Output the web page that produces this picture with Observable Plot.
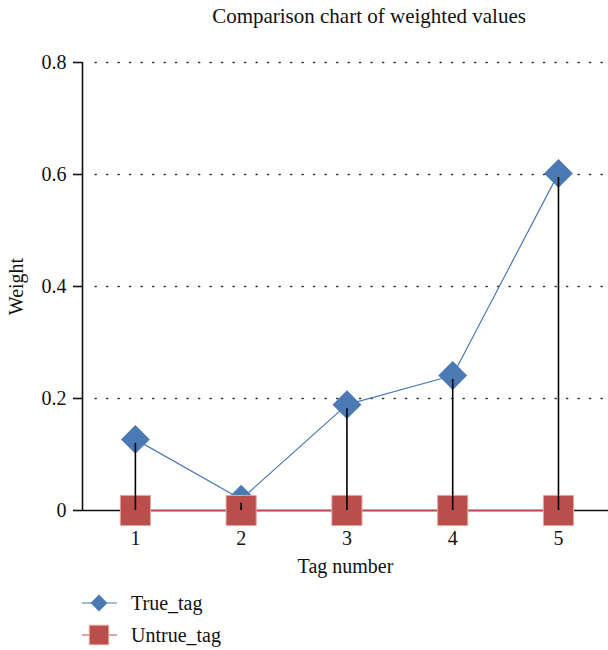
<!DOCTYPE html>
<html>
<head>
<meta charset="utf-8">
<script src="https://cdn.jsdelivr.net/npm/d3@7"></script>
<script src="https://cdn.jsdelivr.net/npm/@observablehq/plot@0.6"></script>
<style>
  body { margin: 0; background: #fff; font-family: "Liberation Serif", serif; }
  #wrap { position: relative; width: 608px; height: 650px; overflow: hidden; }
  #title { position: absolute; top: 4px; left: 0; width: 738px; text-align: center; font-size: 21px; color: #111; }
  #chart { position: absolute; top: 0; left: 0; }
  #legend { position: absolute; left: 0; top: 586px; }
</style>
</head>
<body>
<div id="wrap">
  <div id="chart"></div>
  <div id="title">Comparison chart of weighted values</div>
  <div id="legend"></div>
</div>
<script>
const tags = [1, 2, 3, 4, 5];
const trueTag = [0.127, 0.020, 0.189, 0.241, 0.602];
const untrueTag = [0, 0, 0, 0, 0];
const yTicks = [0, 0.2, 0.4, 0.6, 0.8];
const seriesNames = ["True_tag", "Untrue_tag"];
const blue = "#4a79b4";
const red = "#b94e4b";

const trueData = tags.map((t, i) => ({tag: t, w: trueTag[i]}));
const untrueData = tags.map((t, i) => ({tag: t, w: untrueTag[i]}));
const yFmt = d => d === 0 ? "0" : d.toFixed(1);

const chart = Plot.plot({
  width: 608,
  height: 650,
  marginTop: 62,
  marginBottom: 140,
  marginLeft: 82,
  marginRight: 0,
  style: {fontFamily: "Liberation Serif, serif", fontSize: "20px", color: "#111", background: "transparent"},
  x: {domain: [0.5, 5.473]},
  y: {domain: [0, 0.8]},
  marks: [
    Plot.ruleY(yTicks.filter(d => d > 0), {stroke: "#333", strokeWidth: 1.3, strokeDasharray: "1.3,10.2", strokeLinecap: "round", insetLeft: 13}),
    Plot.axisX({ticks: tags, tickSize: 0, tickPadding: 20, label: "Tag number", labelAnchor: "center", labelOffset: 62, labelArrow: "none", fontSize: 20, tickFormat: d => String(d)}),
    Plot.axisY({ticks: yTicks, tickSize: 9, tickPadding: 7, label: "Weight", labelAnchor: "center", labelOffset: 74, labelArrow: "none", fontSize: 20, tickFormat: yFmt, strokeWidth: 1.6}),
    Plot.ruleX([0.5], {y1: 0, y2: 0.8, stroke: "#111", strokeWidth: 1.6}),
    Plot.ruleY([0], {stroke: "#111", strokeWidth: 1.6}),
    Plot.line(untrueData, {x: "tag", y: "w", stroke: red, strokeWidth: 1.6}),
    Plot.line(trueData, {x: "tag", y: "w", stroke: blue, strokeWidth: 1.2}),
    Plot.dot(trueData, {x: "tag", y: "w", symbol: "diamond2", r: 13, fill: blue}),
    Plot.dot(untrueData, {x: "tag", y: "w", symbol: "square", r: 17, fill: red, stroke: "#e3a6a4", strokeWidth: 1}),
    Plot.ruleX(trueData, {x: "tag", y1: 0, y2: "w", stroke: "#000", strokeWidth: 1.6, insetBottom: -4, insetTop: 0})
  ]
});
document.getElementById("chart").appendChild(chart);

// legend
const lg = d3.select("#legend").append("svg").attr("width", 300).attr("height", 64)
  .style("font-family", "Liberation Serif, serif").style("font-size", "20px");
const rows = [
  {name: seriesNames[0], color: blue, sym: d3.symbolDiamond2, size: 180, y: 17},
  {name: seriesNames[1], color: red, sym: d3.symbolSquare, size: 380, y: 49}
];
rows.forEach(r => {
  lg.append("line").attr("x1", 82).attr("x2", 117).attr("y1", r.y).attr("y2", r.y).attr("stroke", r.color).attr("stroke-width", 1.2);
  lg.append("path").attr("d", d3.symbol(r.sym, r.size)()).attr("transform", `translate(99,${r.y})`).attr("fill", r.color)
    .attr("stroke", r.sym === d3.symbolSquare ? "#e3a6a4" : "none");
  lg.append("text").attr("x", 131).attr("y", r.y).attr("dy", "0.35em").attr("fill", "#111").text(r.name);
});
</script>
</body>
</html>
